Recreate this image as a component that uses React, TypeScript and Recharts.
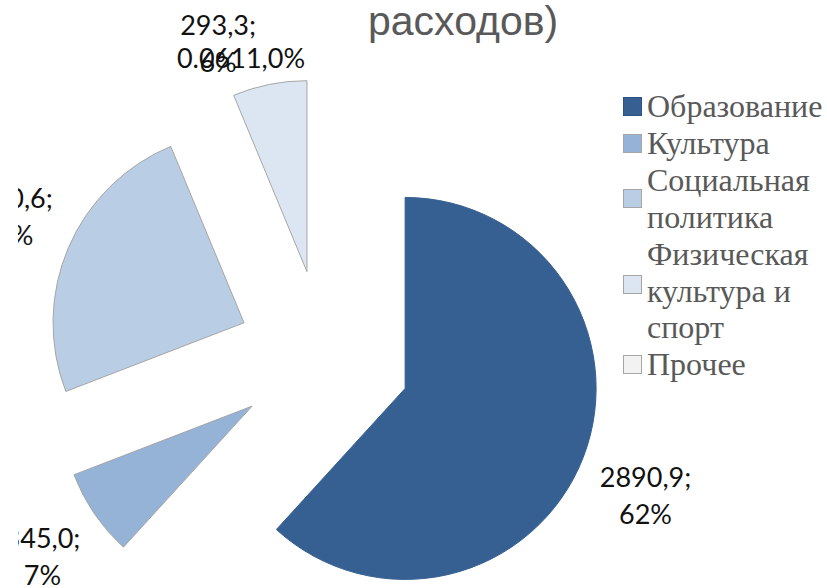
import React from 'react';
import { PieChart, Pie, Cell, Legend } from 'recharts';

const categories = ['Образование', 'Культура', 'Социальная политика', 'Физическая культура и спорт', 'Прочее'];
const values = [2890.9, 345.0, 1150.6, 293.3, 0.06];
const colors = ['#366092', '#95B3D7', '#B9CDE5', '#DCE6F2', '#F2F2F2'];
const dataLabels: string[][] = [
  ['2890,9;', '62%'],
  ['345,0;', '7%'],
  ['1150,6;', '25%'],
  ['293,3;', '6%'],
  ['0.0611,0%'],
];
const titleText = 'расходов)';

const data = categories.map((name, i) => ({ name, value: values[i] }));

// layout / style constants
const W = 827;
const H = 588;
const CX = 324;
const CY = 357;
const R = 191;
const EXPLODE = 87;
const LABEL_GAP = 69;
const LEFT_CLIP = 18;
const NUDGE = [
  [-2, 13],
  [5, 4],
  [2, -4],
  [-38, 27],
  [-83, 48],
];
const RAD = Math.PI / 180;

const total = values.reduce((a, b) => a + b, 0);
const midAngles = (() => {
  let cum = 0;
  return values.map((v) => {
    const mid = 90 - (360 * (cum + v / 2)) / total;
    cum += v;
    return mid;
  });
})();

const makeLabel = (i: number) => (p: any) => {
  if (p.index !== i) return null;
  const r = p.outerRadius + LABEL_GAP;
  const ax = p.cx + r * Math.cos(-p.midAngle * RAD) + NUDGE[i][0];
  const ay = p.cy + r * Math.sin(-p.midAngle * RAD) + NUDGE[i][1];
  const lines = dataLabels[i];
  const common = {
    fontFamily: 'Lato, "Open Sans", sans-serif',
    fontSize: 27,
    fill: '#111111',
    textAnchor: 'middle' as const,
    clipPath: 'url(#leftClip)',
  };
  if (lines.length === 1) {
    return (
      <text key={`l${i}`} x={ax} y={ay + 10} {...common}>
        {lines[0]}
      </text>
    );
  }
  return (
    <g key={`l${i}`}>
      <text x={ax} y={ay - 8.5} {...common}>
        {lines[0]}
      </text>
      <text x={ax} y={ay + 28.5} {...common}>
        {lines[1]}
      </text>
    </g>
  );
};

const LegendContent = () => (
  <div
    style={{
      fontFamily: '"Liberation Serif", "DejaVu Serif", serif',
      fontSize: 32,
      lineHeight: '36.9px',
      color: '#595959',
    }}
  >
    {categories.map((c, i) => (
      <div key={c} style={{ display: 'flex', alignItems: 'center' }}>
        <span
          style={{
            width: 17,
            height: 17,
            background: colors[i],
            border: `1px solid ${i === 0 ? '#2E5382' : '#A6A6A6'}`,
            flex: 'none',
            marginRight: 5,
            marginTop: i === 3 ? -12 : 0,
          }}
        />
        <span style={{ width: 180 }}>{c}</span>
      </div>
    ))}
  </div>
);

export default function App() {
  return (
    <div style={{ position: 'absolute', left: 0, top: 0, width: W, height: H, background: '#fff' }}>
      <PieChart width={W} height={H} margin={{ top: 0, right: 0, bottom: 0, left: 0 }}>
        <defs>
          <clipPath id="leftClip" clipPathUnits="userSpaceOnUse">
            <rect x={LEFT_CLIP} y={0} width={W - LEFT_CLIP} height={H} />
          </clipPath>
        </defs>
        <text
          x={368}
          y={35}
          fontFamily='"Liberation Sans", Arial, sans-serif'
          fontSize={41}
          fill="#595959"
        >
          {titleText}
        </text>
        {categories.map((c, i) => {
          const dx = EXPLODE * Math.cos(midAngles[i] * RAD);
          const dy = -EXPLODE * Math.sin(midAngles[i] * RAD);
          return (
            <Pie
              key={c}
              data={data}
              dataKey="value"
              nameKey="name"
              cx={CX + dx}
              cy={CY + dy}
              outerRadius={R}
              innerRadius={0}
              startAngle={90}
              endAngle={-270}
              isAnimationActive={false}
              label={makeLabel(i)}
              labelLine={false}
            >
              {data.map((d, j) => (
                <Cell
                  key={d.name}
                  fill={j === i ? colors[j] : 'transparent'}
                  stroke={j === i && j !== 4 ? (j === 0 ? colors[0] : '#A6A6A6') : 'none'}
                  strokeWidth={j === i ? 1 : 0}
                />
              ))}
            </Pie>
          );
        })}
        <Legend
          layout="vertical"
          align="right"
          verticalAlign="top"
          content={<LegendContent />}
          wrapperStyle={{ left: 623, top: 88, width: 204, right: 'auto' }}
        />
      </PieChart>
    </div>
  );
}
